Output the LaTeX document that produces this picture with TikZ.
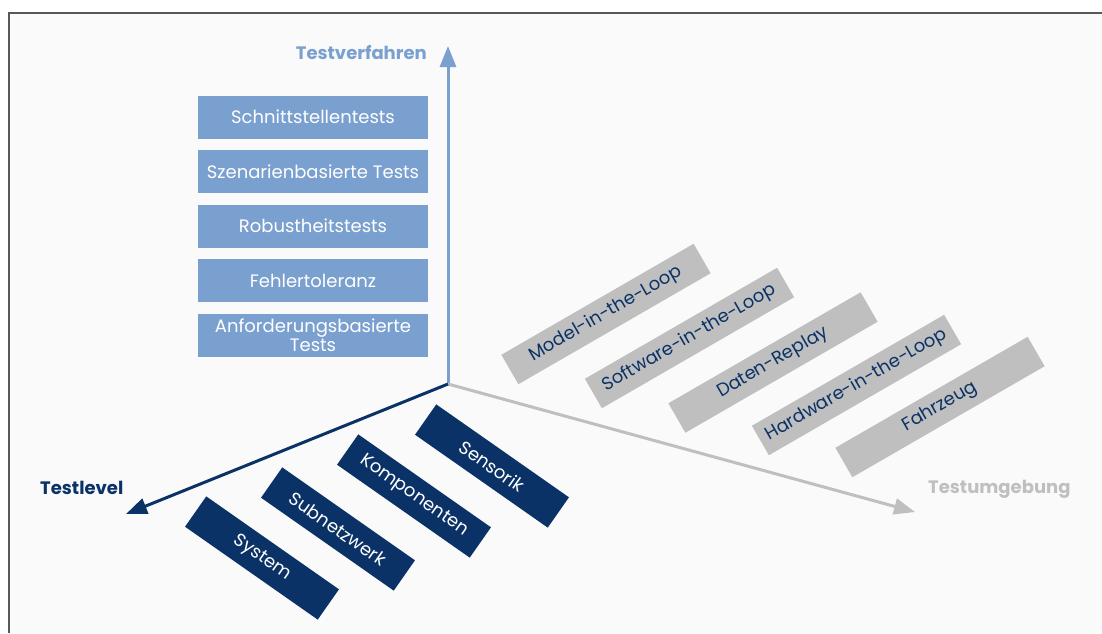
\documentclass[tikz,border=0pt]{standalone}
\usepackage{fontspec}
\setmainfont{Poppins}
\usetikzlibrary{arrows.meta}

\definecolor{verfblue}{RGB}{122,160,207}
\definecolor{levelnavy}{RGB}{10,50,102}
\definecolor{umgray}{RGB}{191,191,191}
\definecolor{paper}{RGB}{250,250,250}

\tikzset{
    verfbox/.style={fill=verfblue,text=white,minimum width=230pt,minimum height=43pt,inner sep=1pt,align=center,font=\fontsize{18}{19}\selectfont},
    levelbox/.style={fill=levelnavy,text=white,minimum width=162pt,minimum height=37pt,inner sep=1pt,rotate=-35,font=\fontsize{18}{19}\selectfont},
    umbox/.style={fill=umgray,text=levelnavy,minimum width=222pt,minimum height=34pt,inner sep=1pt,rotate=30,font=\fontsize{18}{19}\selectfont},
    axislabel/.style={font=\bfseries\fontsize{18}{20}\selectfont,inner sep=0pt},
    axisarrow/.style={line width=3pt,-{Triangle[length=21pt,width=16pt]}}
}

\begin{document}
\begin{tikzpicture}[x=1pt,y=-1pt]
    \useasboundingbox (0,0) rectangle (1102,633);
    \fill[paper] (9,13) rectangle (1102,633);
    \draw[black!65,line width=1.2pt] (9,633) -- (9,13) -- (1102,13);

    % axes
    \coordinate (o) at (448,384);
    \coordinate (tvtip) at (448,46);
    \coordinate (tltip) at (126,514);
    \coordinate (tutip) at (915,512);

    \draw[axisarrow,verfblue] (o) -- (tvtip);
    \draw[axisarrow,umgray] (o) -- (tutip);
    \draw[axisarrow,levelnavy] (o) -- (tltip);

    \node[axislabel,text=verfblue,anchor=east] (tv) at (427,53) {Testverfahren};
    \node[axislabel,text=levelnavy,anchor=west] (tl) at (40,488) {Testlevel};
    \node[axislabel,text=umgray,anchor=west] (tu) at (928,489) {Testumgebung};

    % Testverfahren
    \node[verfbox] (v1) at (313,117) {Schnittstellentests};
    \node[verfbox] (v2) at (313,171.5) {Szenarienbasierte Tests};
    \node[verfbox] (v3) at (313,226) {Robustheitstests};
    \node[verfbox] (v4) at (313,280.5) {Fehlertoleranz};
    \node[verfbox] (v5) at (313,335) {Anforderungsbasierte\\Tests};

    % Testlevel
    \node[levelbox] (l1) at (262,558) {System};
    \node[levelbox] (l2) at (338,529) {Subnetzwerk};
    \node[levelbox] (l3) at (414,496) {Komponenten};
    \node[levelbox] (l4) at (492,466) {Sensorik};

    % Testumgebung
    \node[umbox] (u1) at (606,314) {Model-in-the-Loop};
    \node[umbox] (u2) at (689.5,338) {Software-in-the-Loop};
    \node[umbox] (u3) at (773,362.5) {Daten-Replay};
    \node[umbox] (u4) at (856.5,385) {Hardware-in-the-Loop};
    \node[umbox] (u5) at (940,407) {Fahrzeug};
\end{tikzpicture}
\end{document}
